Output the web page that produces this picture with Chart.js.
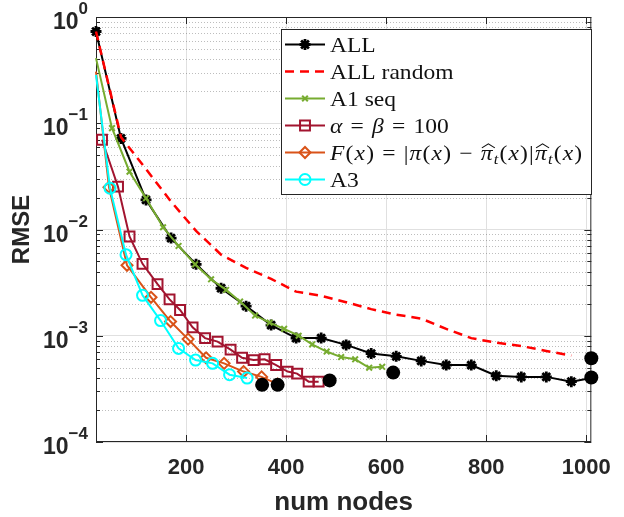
<!DOCTYPE html>
<html>
<head>
<meta charset="utf-8">
<script src="https://cdn.jsdelivr.net/npm/chart.js@4.4.1/dist/chart.umd.min.js"></script>
<style>
    html, body { margin: 0; padding: 0; background: #fff; }
    #wrap { width: 624px; height: 517px; }
</style>
</head>
<body>
<div id="wrap"><canvas id="chart-rmse" width="624" height="517"></canvas></div>
<script>
// 축 눈금
const xTicks = [200, 400, 600, 800, 1000];
const yDecades = [1e-4, 1e-3, 1e-2, 1e-1, 1];
const yExponents = ['\u22124', '\u22123', '\u22122', '\u22121', '0'];

// ALL
const allX = [20, 70, 120, 170, 220, 270, 320, 370, 420, 470, 520, 570, 620, 670, 720, 770, 820, 870, 920, 970, 1010];
const allY = [0.73, 0.072, 0.019, 0.0083, 0.0047, 0.0028, 0.0019, 0.00126, 0.00095, 0.00095, 0.00082, 0.00068, 0.00064, 0.00058, 0.00053, 0.00053, 0.00042, 0.00041, 0.00041, 0.00037, 0.0004];

// ALL random
const randX = [20, 70, 120, 170, 220, 270, 320, 370, 420, 470, 520, 570, 620, 670, 720, 770, 820, 870, 920, 970];
const randY = [0.73, 0.074, 0.037, 0.0183, 0.0097, 0.0058, 0.00435, 0.00343, 0.0026, 0.00238, 0.00207, 0.00178, 0.00158, 0.00145, 0.00116, 0.00095, 0.00086, 0.0008, 0.00072, 0.00065];

// A1 seq
const a1X = [20, 52, 87, 120, 154, 185, 218, 250, 280, 308, 338, 367, 396, 425, 452, 481, 510, 538, 566, 592];
const a1Y = [0.41, 0.09, 0.035, 0.0197, 0.0105, 0.007, 0.0047, 0.0034, 0.0027, 0.0021, 0.00155, 0.00133, 0.00116, 0.001, 0.00083, 0.00071, 0.00063, 0.0006, 0.0005, 0.00051];

// alpha = beta = 100
const abX = [32, 64, 87, 113, 143, 167, 188, 213, 238, 263, 289, 312, 335, 357, 380, 403, 422, 445, 465];
const abY = [0.07, 0.0253, 0.0086, 0.00475, 0.00306, 0.0022, 0.00175, 0.0012, 0.00095, 0.00088, 0.00074, 0.00062, 0.00059, 0.0006, 0.00053, 0.00046, 0.00044, 0.00037, 0.00037];

// F(x)
const fX = [20, 46, 82, 130, 169, 204, 240, 276, 315, 351, 383];
const fY = [0.306, 0.025, 0.0046, 0.0023, 0.00136, 0.00093, 0.00062, 0.00055, 0.00046, 0.00041, 0.00035];

// A3
const a3X = [20, 48, 80, 113, 149, 185, 219, 253, 287, 322];
const a3Y = [0.285, 0.0245, 0.0058, 0.0024, 0.00139, 0.00076, 0.00059, 0.00055, 0.00043, 0.0004];

// 최종 값 (큰 검은 점)
const finX = [352, 383, 487, 614, 1010, 1010];
const finY = [0.000345, 0.000345, 0.00038, 0.00045, 0.000615, 0.000404];

const toPoints = (xs, ys) => xs.map((x, i) => ({ x: x, y: ys[i] }));
const hideFirst = (r) => (c) => (c.dataIndex === 0 ? 0 : r);

const yMinor = [];
yDecades.slice(0, -1).forEach(d => {
    [2, 3, 4, 5, 6, 7, 8, 9].forEach(m => yMinor.push(m * d));
});

// 범례 텍스트 (수식은 조각으로)
const legendLabels = [
    [{ t: 'ALL' }],
    [{ t: 'ALL random' }],
    [{ t: 'A1 seq' }],
    [{ t: '\u03b1', i: 1 }, { t: ' = ' }, { t: '\u03b2', i: 1 }, { t: ' = 100' }],
    [{ t: 'F', i: 1 }, { t: '(' }, { t: 'x', i: 1 }, { t: ') = |' }, { t: '\u03c0', i: 1 }, { t: '(' }, { t: 'x', i: 1 },
     { t: ') \u2212 ' }, { t: '\u03c0', i: 1, hat: 1 }, { t: 't', i: 1, sub: 1 }, { t: '(' }, { t: 'x', i: 1 }, { t: ')|' },
     { t: '\u03c0', i: 1, hat: 1 }, { t: 't', i: 1, sub: 1 }, { t: '(' }, { t: 'x', i: 1 }, { t: ')' }],
    [{ t: 'A3' }]
];

const datasets = [
    {
        label: 'ALL', data: toPoints(allX, allY),
        borderColor: '#000000', backgroundColor: '#000000', borderWidth: 2,
        pointStyle: 'star', pointRadius: 5.5, pointBorderWidth: 2.8, order: 6
    },
    {
        label: 'ALL random', data: toPoints(randX, randY),
        borderColor: '#ff0000', backgroundColor: '#ff0000', borderWidth: 2.5, borderDash: [9, 6],
        pointRadius: 0, order: 5
    },
    {
        label: 'A1 seq', data: toPoints(a1X, a1Y),
        borderColor: '#77ac30', backgroundColor: '#77ac30', borderWidth: 2,
        pointStyle: 'crossRot', pointRadius: hideFirst(4), pointBorderWidth: 2, order: 4
    },
    {
        label: 'alpha = beta = 100', data: toPoints(abX, abY),
        borderColor: '#a2142f', backgroundColor: 'rgba(0,0,0,0)', borderWidth: 2,
        pointStyle: 'rect', pointRadius: 7, pointBorderWidth: 2, order: 3
    },
    {
        label: 'F(x)', data: toPoints(fX, fY),
        borderColor: '#d95319', backgroundColor: 'rgba(0,0,0,0)', borderWidth: 2,
        pointStyle: 'rectRot', pointRadius: hideFirst(5.5), pointBorderWidth: 2, order: 2
    },
    {
        label: 'A3', data: toPoints(a3X, a3Y),
        borderColor: '#00ffff', backgroundColor: 'rgba(0,0,0,0)', borderWidth: 2,
        pointStyle: 'circle', pointRadius: hideFirst(5.5), pointBorderWidth: 2, order: 1
    },
    {
        label: 'final', data: toPoints(finX, finY), showLine: false,
        borderColor: '#000000', backgroundColor: '#000000', borderWidth: 0,
        pointStyle: 'circle', pointRadius: 7, pointBorderWidth: 0, order: 0
    }
];
datasets.forEach(ds => { ds.clip = false; ds.tension = 0; });

const axisColor = '#262626';

function line(ctx, x1, y1, x2, y2) {
    ctx.beginPath();
    ctx.moveTo(x1, y1);
    ctx.lineTo(x2, y2);
    ctx.stroke();
}

// 수식 라벨은 글자마다 조금 띄워서 LaTeX 폭에 맞춤
function drawRuns(ctx, runs, x, baseline, size, stretch) {
    const isMath = runs.some(r => r.i);
    ctx.save();
    ctx.translate(x, baseline);
    ctx.scale(stretch, 1);
    let cx = 0;
    runs.forEach(r => {
        const fs = r.sub ? size * 0.7 : size;
        ctx.font = (r.i ? 'italic ' : '') + fs + 'px "Liberation Serif"';
        const dy = r.sub ? size * 0.22 : 0;
        const start = cx;
        if (!isMath) {
            ctx.fillText(r.t, cx, dy);
            cx += ctx.measureText(r.t).width;
        } else {
            for (const ch of r.t) {
                ctx.fillText(ch, cx, dy);
                cx += ctx.measureText(ch).width;
                if (ch === ' ') cx += size * 0.05;
                else if (!/[0-9]/.test(ch)) cx += size * 0.05;
            }
        }
        if (r.hat) {
            const w = cx - start;
            ctx.lineWidth = 1;
            ctx.beginPath();
            ctx.moveTo(start + 1, -size * 0.55);
            ctx.lineTo(start + w / 2 + 1, -size * 0.75);
            ctx.lineTo(start + w + 1, -size * 0.55);
            ctx.stroke();
        }
    });
    ctx.restore();
}

const matlabLook = {
    id: 'matlabLook',
    beforeDatasetsDraw(chart) {
        const { ctx, chartArea: a } = chart;
        const xs = chart.scales.x, ys = chart.scales.y;
        ctx.save();
        ctx.lineWidth = 1;
        // 보조 격자 (점선)
        ctx.strokeStyle = 'rgba(38,38,38,0.3)';
        ctx.setLineDash([1, 2]);
        yMinor.forEach(v => {
            const py = Math.round(ys.getPixelForValue(v)) + 0.5;
            line(ctx, a.left, py, a.right, py);
        });
        ctx.setLineDash([]);
        // 눈금 (안쪽)
        ctx.strokeStyle = axisColor;
        yMinor.forEach(v => {
            const py = Math.round(ys.getPixelForValue(v)) + 0.5;
            line(ctx, a.left, py, a.left + 4, py);
            line(ctx, a.right - 4, py, a.right, py);
        });
        yDecades.forEach(v => {
            const py = Math.round(ys.getPixelForValue(v)) + 0.5;
            line(ctx, a.left, py, a.left + 7, py);
            line(ctx, a.right - 7, py, a.right, py);
        });
        xTicks.forEach(v => {
            const px = Math.round(xs.getPixelForValue(v)) + 0.5;
            line(ctx, px, a.bottom, px, a.bottom - 7);
            line(ctx, px, a.top, px, a.top + 7);
        });
        ctx.strokeRect(a.left + 0.5, a.top + 0.5, a.right - a.left - 1, a.bottom - a.top - 1);
        ctx.restore();
    },
    afterDraw(chart) {
        const { ctx, chartArea: a } = chart;
        const ys = chart.scales.y;
        ctx.save();
        ctx.fillStyle = axisColor;
        ctx.textBaseline = 'alphabetic';

        // y 눈금 라벨 10^k
        yDecades.forEach((v, i) => {
            const py = ys.getPixelForValue(v);
            ctx.font = 'bold 17px "Liberation Sans"';
            const ws = ctx.measureText(yExponents[i]).width;
            const right = 88;
            ctx.textAlign = 'left';
            ctx.fillText(yExponents[i], right - ws, py - 3);
            ctx.font = 'bold 23px "Liberation Sans"';
            ctx.textAlign = 'right';
            ctx.fillText('10', right - ws, py + 12);
        });

        // 축 제목
        ctx.textAlign = 'center';
        ctx.textBaseline = 'middle';
        ctx.font = 'bold 26px "Liberation Sans"';
        ctx.fillText('num nodes', (a.left + a.right) / 2, 503);
        ctx.save();
        ctx.translate(22, (a.top + a.bottom) / 2);
        ctx.rotate(-Math.PI / 2);
        ctx.font = 'bold 24px "Liberation Sans"';
        ctx.fillText('RMSE', 0, 0);
        ctx.restore();

        // 범례
        const box = { left: 282, top: 29, width: 310, height: 165 };
        ctx.fillStyle = '#ffffff';
        ctx.fillRect(box.left, box.top, box.width, box.height);
        ctx.strokeStyle = axisColor;
        ctx.lineWidth = 1;
        ctx.strokeRect(box.left - 0.5, box.top + 0.5, box.width, box.height);

        legendLabels.forEach((runs, i) => {
            const ds = chart.data.datasets[i];
            const cy = 44.5 + i * 27;
            ctx.save();
            ctx.strokeStyle = ds.borderColor;
            ctx.lineWidth = ds.borderWidth;
            ctx.setLineDash(ds.borderDash || []);
            line(ctx, 285, cy, 325, cy);
            ctx.setLineDash([]);
            if (typeof ds.pointRadius === 'function' || ds.pointRadius > 0) {
                const r = typeof ds.pointRadius === 'function' ? ds.pointRadius({ dataIndex: 1 }) : ds.pointRadius;
                ctx.fillStyle = ds.backgroundColor;
                ctx.lineWidth = ds.pointBorderWidth;
                Chart.helpers.drawPoint(ctx, { pointStyle: ds.pointStyle, radius: r, borderWidth: ds.pointBorderWidth, rotation: 0 }, 305, cy);
            }
            ctx.restore();
            ctx.fillStyle = '#111111';
            ctx.strokeStyle = '#111111';
            ctx.textAlign = 'left';
            ctx.textBaseline = 'alphabetic';
            drawRuns(ctx, runs, 330, cy + 7, 21, 1.12);
        });
        ctx.restore();
    }
};

const config_rmse = {
    type: 'line',
    data: { datasets: datasets },
    plugins: [matlabLook],
    options: {
        responsive: false,
        animation: false,
        devicePixelRatio: 1,
        layout: { padding: { top: 17, right: 21, left: 0, bottom: 0 } },
        scales: {
            x: {
                type: 'linear',
                min: 20,
                max: 1010,
                afterBuildTicks: s => { s.ticks = xTicks.map(v => ({ value: v })); },
                afterFit: s => { s.height = 75; },
                grid: { color: '#e0e0e0', lineWidth: 1, drawTicks: false },
                border: { display: false },
                ticks: {
                    padding: 13,
                    color: axisColor,
                    font: { family: 'Liberation Sans', size: 22, weight: 'bold' },
                    callback: v => String(v)
                }
            },
            y: {
                type: 'logarithmic',
                min: 1e-4,
                max: 1,
                afterBuildTicks: s => { s.ticks = yDecades.map(v => ({ value: v, major: true })); },
                afterFit: s => { s.width = 96; },
                grid: { color: '#e0e0e0', lineWidth: 1, drawTicks: false },
                border: { display: false },
                ticks: { display: false }
            }
        },
        plugins: {
            legend: { display: false },
            tooltip: { enabled: false }
        }
    }
};

new Chart(document.getElementById('chart-rmse'), config_rmse);
</script>
</body>
</html>
